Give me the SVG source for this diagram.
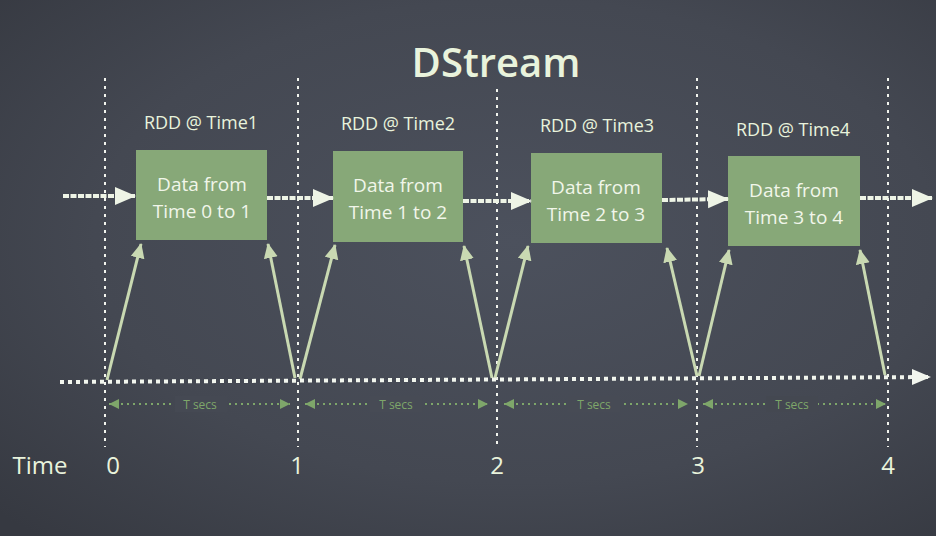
<svg xmlns="http://www.w3.org/2000/svg" width="936" height="536" viewBox="0 0 936 536">
<defs>
<radialGradient id="bg" cx="0.55" cy="0.45" r="0.75">
<stop offset="0" stop-color="#4c515d"/>
<stop offset="0.6" stop-color="#444852"/>
<stop offset="1" stop-color="#363941"/>
</radialGradient>
<marker id="diag" markerUnits="userSpaceOnUse" markerWidth="16" markerHeight="16" refX="14" refY="7" orient="auto">
<path d="M0,0 L15,7 L0,14 Z" fill="#c9d9b2"/>
</marker>
<marker id="chalk" markerUnits="userSpaceOnUse" markerWidth="22" markerHeight="22" refX="20" refY="10" orient="auto">
<path d="M0,1 L21,10 L0,19 Z" fill="#eef4e6"/>
</marker>
<marker id="tline" markerUnits="userSpaceOnUse" markerWidth="20" markerHeight="20" refX="18" refY="9" orient="auto">
<path d="M0,1 L19,9 L0,17 Z" fill="#f2f6ee"/>
</marker>
<marker id="dim" markerUnits="userSpaceOnUse" markerWidth="12" markerHeight="12" refX="10" refY="5" orient="auto-start-reverse">
<path d="M0,0 L10,5 L0,10 Z" fill="#7ea66a"/>
</marker>
</defs>
<style>
.vline{stroke:#f2f4ee;stroke-width:2;stroke-dasharray:3,5;fill:none}
.box{fill:#87a878}
.lbl{font-family:"Open Sans","DejaVu Sans",sans-serif;fill:#e9f3dc;text-anchor:middle}
.rdd{font-size:18px}
.btxt{font-size:19px;fill:#f1f6ea}
.ax{font-size:24px}
.ts{font-family:"Open Sans","DejaVu Sans",sans-serif;font-size:12px;fill:#7ea66a;text-anchor:middle}
.harrow{stroke:#eef4e6;stroke-width:4;stroke-dasharray:6,1.5;fill:none;marker-end:url(#chalk)}
.darrow{stroke:#c9d9b2;stroke-width:3;fill:none;marker-end:url(#diag)}
.dimline{stroke:#7ea66a;stroke-width:2;stroke-dasharray:2,4;fill:none;marker-start:url(#dim);marker-end:url(#dim)}
</style>
<rect width="936" height="536" fill="url(#bg)"/>
<text x="496" y="77" class="lbl" font-size="40" font-weight="600">DStream</text>

<g id="gridlines">
<line class="vline" x1="105" y1="78" x2="105" y2="447"/>
<line class="vline" x1="298" y1="78" x2="298" y2="447"/>
<line class="vline" x1="497" y1="89" x2="497" y2="447"/>
<line class="vline" x1="697" y1="78" x2="697" y2="447"/>
<line class="vline" x1="888" y1="78" x2="888" y2="447"/>
</g>

<g id="rdd1">
<rect class="box" x="136" y="150" width="131" height="90"/>
<text class="lbl rdd" x="201" y="129">RDD @ Time1</text>
<text class="lbl btxt" x="202" y="191">Data from</text>
<text class="lbl btxt" x="202" y="218">Time 0 to 1</text>
</g>
<g id="rdd2">
<rect class="box" x="333" y="151" width="130" height="91"/>
<text class="lbl rdd" x="398" y="130">RDD @ Time2</text>
<text class="lbl btxt" x="398" y="192">Data from</text>
<text class="lbl btxt" x="398" y="219">Time 1 to 2</text>
</g>
<g id="rdd3">
<rect class="box" x="531" y="153" width="131" height="90"/>
<text class="lbl rdd" x="597" y="132">RDD @ Time3</text>
<text class="lbl btxt" x="596" y="194">Data from</text>
<text class="lbl btxt" x="596" y="221">Time 2 to 3</text>
</g>
<g id="rdd4">
<rect class="box" x="728" y="156" width="132" height="90"/>
<text class="lbl rdd" x="793" y="136">RDD @ Time4</text>
<text class="lbl btxt" x="794" y="197">Data from</text>
<text class="lbl btxt" x="794" y="224">Time 3 to 4</text>
</g>

<g id="connectors">
<line class="harrow" x1="63" y1="196" x2="135" y2="196"/>
<line class="harrow" x1="267" y1="198" x2="333" y2="198"/>
<line class="harrow" x1="463" y1="201" x2="531" y2="201"/>
<line class="harrow" x1="662" y1="200" x2="728" y2="199"/>
<line class="harrow" x1="860" y1="198" x2="932" y2="198"/>

<line class="darrow" x1="107" y1="380" x2="141" y2="244"/>
<line class="darrow" x1="295" y1="378" x2="268" y2="244"/>
<line class="darrow" x1="300" y1="379" x2="335" y2="245"/>
<line class="darrow" x1="492" y1="378" x2="464" y2="246"/>
<line class="darrow" x1="495" y1="378" x2="528" y2="246"/>
<line class="darrow" x1="697" y1="376" x2="667" y2="248"/>
<line class="darrow" x1="699" y1="376" x2="729" y2="250"/>
<line class="darrow" x1="885" y1="375" x2="860" y2="250"/>

<line x1="60" y1="382" x2="930" y2="377" stroke="#f2f6ee" stroke-width="4" stroke-dasharray="4,4" marker-end="url(#tline)"/>
</g>

<g id="tsecs">
<line class="dimline" x1="109" y1="404" x2="290" y2="404"/>
<line class="dimline" x1="305" y1="404" x2="488" y2="404"/>
<line class="dimline" x1="504" y1="404" x2="688" y2="404"/>
<line class="dimline" x1="703" y1="404" x2="886" y2="404"/>
<rect x="175" y="396" width="52" height="16" fill="#454953"/>
<rect x="370" y="396" width="52" height="16" fill="#474b55"/>
<rect x="568" y="396" width="52" height="16" fill="#474b55"/>
<rect x="766" y="396" width="52" height="16" fill="#444851"/>
<text class="ts" x="200" y="409">T secs</text>
<text class="ts" x="396" y="409">T secs</text>
<text class="ts" x="594" y="409">T secs</text>
<text class="ts" x="792" y="409">T secs</text>
</g>

<g id="axis">
<text class="lbl ax" x="40" y="474">Time</text>
<text class="lbl ax" x="113" y="474">0</text>
<text class="lbl ax" x="297" y="474">1</text>
<text class="lbl ax" x="497" y="474">2</text>
<text class="lbl ax" x="698" y="474">3</text>
<text class="lbl ax" x="888" y="474">4</text>
</g>
</svg>
